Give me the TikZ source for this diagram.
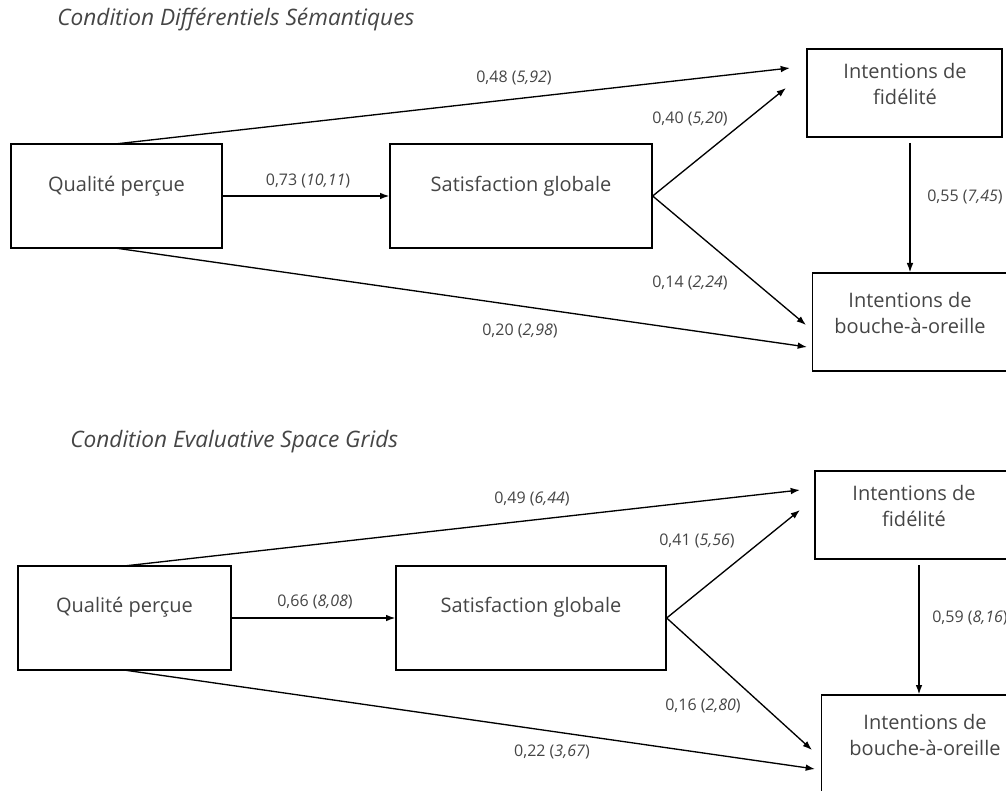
\documentclass[tikz,border=0pt]{standalone}
\usepackage{fontspec}
\setmainfont{Open Sans}
\usetikzlibrary{arrows.meta}
\definecolor{txt}{HTML}{454545}
\begin{document}
\begin{tikzpicture}[x=0.75pt,y=-0.75pt,
  box/.style={draw=black,line width=1pt,inner sep=0pt},
  boxtext/.style={text=txt,font=\fontsize{15}{19}\selectfont,align=center,inner sep=0pt},
  lab/.style={text=txt,font=\fontsize{12}{14}\selectfont,inner sep=0pt},
  ttl/.style={text=txt,font=\fontsize{17}{19}\selectfont\itshape,anchor=west,inner sep=0pt},
  arr/.style={line width=1pt,-{Latex[length=7pt,width=5pt]}}]
\useasboundingbox (0,0) rectangle (1006,791);
\clip (0,0) rectangle (1006,791);
% ---------- Panel 1 ----------
\node[ttl] (t1) at (57,20) {Condition Différentiels Sémantiques};
\node[box,minimum width=158.25pt,minimum height=78pt] (q1) at (116.5,196) {};
\node[box,minimum width=196.5pt,minimum height=78pt] (s1) at (521,196) {};
\node[box,minimum width=146.25pt,minimum height=66pt] (f1) at (904.5,93) {};
\node[box,minimum width=146.25pt,minimum height=73.5pt] (b1) at (910,322) {};
\node[boxtext] (q1t) at (116.5,186) {Qualité perçue};
\node[boxtext] (s1t) at (521,186) {Satisfaction globale};
\node[boxtext] (f1t) at (905,84) {Intentions de\\fidélité};
\node[boxtext] (b1t) at (910,313) {Intentions de\\bouche-à-oreille};
\coordinate (e1a) at (790,68);
\coordinate (e1b) at (786,88);
\coordinate (e1c) at (806,325);
\coordinate (e1d) at (807,347);
\coordinate (q1top) at (115,144);
\coordinate (q1bot) at (115,248);
\draw[arr] (q1top) -- (e1a);
\draw[arr] (q1.east) -- (s1.west);
\draw[arr] (s1.east) -- (e1b);
\draw[arr] (s1.east) -- (e1c);
\draw[arr] (q1bot) -- (e1d);
\draw[arr,shorten <=4pt] (f1.south -| b1.north) -- (b1.north);
\node[lab] (l1a) at (514,78) {0,48 (\textit{5,92})};
\node[lab] (l1b) at (308,181) {0,73 (\textit{10,11})};
\node[lab] (l1c) at (690,119) {0,40 (\textit{5,20})};
\node[lab] (l1d) at (690,283) {0,14 (\textit{2,24})};
\node[lab] (l1e) at (520,331) {0,20 (\textit{2,98})};
\node[lab] (l1f) at (965,197) {0,55 (\textit{7,45})};
% ---------- Panel 2 ----------
\node[ttl] (t2) at (70,442) {Condition Evaluative Space Grids};
\node[box,minimum width=159.75pt,minimum height=78pt] (q2) at (124.5,618) {};
\node[box,minimum width=202.5pt,minimum height=78pt] (s2) at (531,618) {};
\node[box,minimum width=146.25pt,minimum height=66pt] (f2) at (912.5,515) {};
\node[box,minimum width=146.25pt,minimum height=73.5pt] (b2) at (919,744) {};
\node[boxtext] (q2t) at (124.5,607) {Qualité perçue};
\node[boxtext] (s2t) at (531,607) {Satisfaction globale};
\node[boxtext] (f2t) at (914,506) {Intentions de\\fidélité};
\node[boxtext] (b2t) at (925,735) {Intentions de\\bouche-à-oreille};
\coordinate (e2a) at (800,490);
\coordinate (e2b) at (800,510);
\coordinate (e2c) at (812,750);
\coordinate (e2d) at (815,769);
\coordinate (q2top) at (124,566);
\coordinate (q2bot) at (124,670);
\draw[arr] (q2top) -- (e2a);
\draw[arr] (q2.east) -- (s2.west);
\draw[arr] (s2.east) -- (e2b);
\draw[arr] (s2.east) -- (e2c);
\draw[arr] (q2bot) -- (e2d);
\draw[arr,shorten <=4pt] (f2.south -| b2.north) -- (b2.north);
\node[lab] (l2a) at (532,499) {0,49 (\textit{6,44})};
\node[lab] (l2b) at (315,602) {0,66 (\textit{8,08})};
\node[lab] (l2c) at (697,541) {0,41 (\textit{5,56})};
\node[lab] (l2d) at (703,706) {0,16 (\textit{2,80})};
\node[lab] (l2e) at (552,752) {0,22 (\textit{3,67})};
\node[lab,anchor=west] (l2f) at (932,618) {0,59 (\textit{8,16})};
\end{tikzpicture}
\end{document}
